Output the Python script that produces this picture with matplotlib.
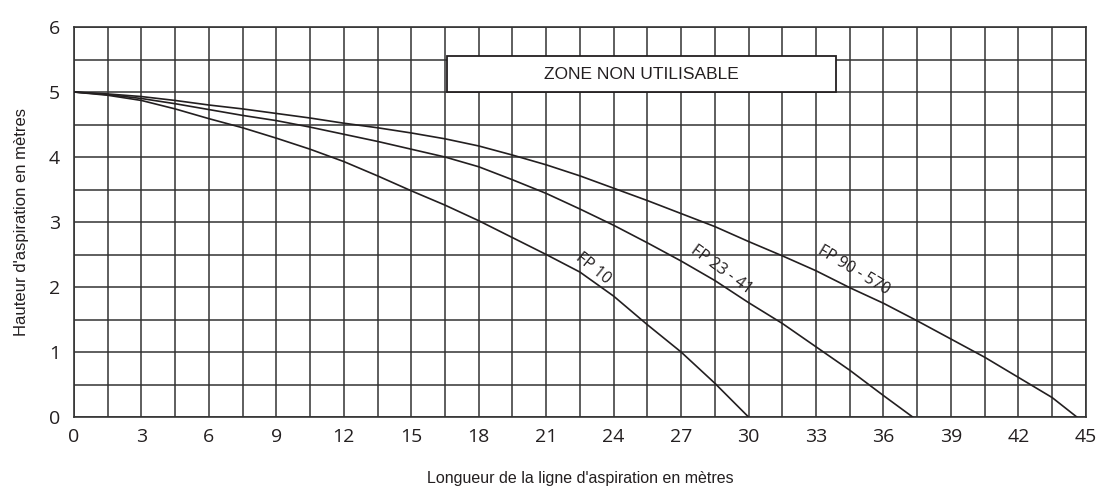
import numpy as np
import matplotlib.pyplot as plt
from matplotlib.patches import Rectangle

# Curves (longueur, hauteur)
fp10_x = [0, 1.5, 3, 4.5, 6, 7.5, 9, 10.5, 12, 13.5, 15, 16.5, 18, 19.5, 21,
          22.5, 24, 25.5, 27, 28.5, 30]
fp10_y = [5, 4.95, 4.87, 4.74, 4.59, 4.45, 4.29, 4.12, 3.93, 3.71, 3.48, 3.26,
          3.02, 2.76, 2.5, 2.23, 1.86, 1.42, 1.0, 0.52, 0]

fp23_x = [0, 1.5, 3, 4.5, 6, 7.5, 9, 10.5, 12, 13.5, 15, 16.5, 18, 19.5, 21,
          22.5, 24, 25.5, 27, 28.5, 30, 31.5, 33, 34.5, 36, 37.3]
fp23_y = [5, 4.96, 4.9, 4.82, 4.73, 4.64, 4.56, 4.46, 4.35, 4.24, 4.12, 4.0,
          3.85, 3.65, 3.44, 3.2, 2.95, 2.68, 2.4, 2.1, 1.76, 1.44, 1.08, 0.72,
          0.33, 0]

fp90_x = [0, 1.5, 3, 4.5, 6, 7.5, 9, 10.5, 12, 13.5, 15, 16.5, 18, 19.5, 21,
          22.5, 24, 25.5, 27, 28.5, 30, 31.5, 33, 34.5, 36, 37.5, 39, 40.5, 42,
          43.5, 44.6]
fp90_y = [5, 4.97, 4.93, 4.87, 4.8, 4.74, 4.67, 4.6, 4.52, 4.45, 4.37, 4.28,
          4.17, 4.03, 3.88, 3.71, 3.52, 3.33, 3.13, 2.93, 2.7, 2.48, 2.25, 1.99,
          1.75, 1.48, 1.2, 0.92, 0.61, 0.3, 0]

curve_labels = ['FP 10', 'FP 23 - 41', 'FP 90 - 570']
label_pos = [(23.1, 2.29), (28.8, 2.27), (34.7, 2.25)]
label_rot = [-39, -36, -31]

x_ticks = [0, 3, 6, 9, 12, 15, 18, 21, 24, 27, 30, 33, 36, 39, 42, 45]
y_ticks = [0, 1, 2, 3, 4, 5, 6]

ink = '#231f20'

fig = plt.figure(figsize=(10.99, 4.91), dpi=100)
ax = fig.add_axes([0.0673, 0.1507, 0.9207, 0.7943])

# Grid every 1.5 m horizontally and 0.5 m vertically
ax.set_xticks(np.arange(0, 45.1, 1.5), minor=True)
ax.set_yticks(np.arange(0, 6.1, 0.5), minor=True)
ax.set_xticks(x_ticks)
ax.set_yticks(y_ticks)
ax.grid(which='both', color='#333333', linewidth=1.1)
ax.set_axisbelow(True)
ax.tick_params(which='both', length=0)
ax.tick_params(axis='x', pad=8)
ax.tick_params(axis='y', pad=10)
for lab in ax.get_xticklabels() + ax.get_yticklabels():
    lab.set_fontfamily('Open Sans')
    lab.set_fontsize(14)
    lab.set_color(ink)
for sp in ax.spines.values():
    sp.set_color('#333333')
    sp.set_linewidth(1.2)

ax.set_xlim(0, 45)
ax.set_ylim(0, 6)

for xs, ys in [(fp10_x, fp10_y), (fp23_x, fp23_y), (fp90_x, fp90_y)]:
    ax.plot(xs, ys, color=ink, linewidth=1.2, zorder=3)

for txt, (tx, ty), rot in zip(curve_labels, label_pos, label_rot):
    ax.text(tx, ty, txt, rotation=rot, rotation_mode='anchor', ha='center',
            va='center', fontsize=11.5, family='Open Sans', color=ink, zorder=4)

# "Zone non utilisable" box
ax.add_patch(Rectangle((16.6, 5.0), 17.3, 0.55, facecolor='white',
                       edgecolor=ink, linewidth=1.3, zorder=4))
ax.text(25.25, 5.275, 'ZONE NON UTILISABLE', ha='center', va='center',
        fontsize=12.5, family=['Liberation Sans Narrow', 'Liberation Sans'],
        color=ink, zorder=5)

ax.set_xlabel("Longueur de la ligne d'aspiration en mètres", fontsize=11.5,
              family=['Liberation Sans Narrow', 'Liberation Sans'], color=ink, labelpad=18)
ax.set_ylabel("Hauteur d'aspiration en mètres", fontsize=12,
              family=['Liberation Sans Narrow', 'Liberation Sans'], color=ink, labelpad=14)

fig.savefig('out.png', dpi=100)
